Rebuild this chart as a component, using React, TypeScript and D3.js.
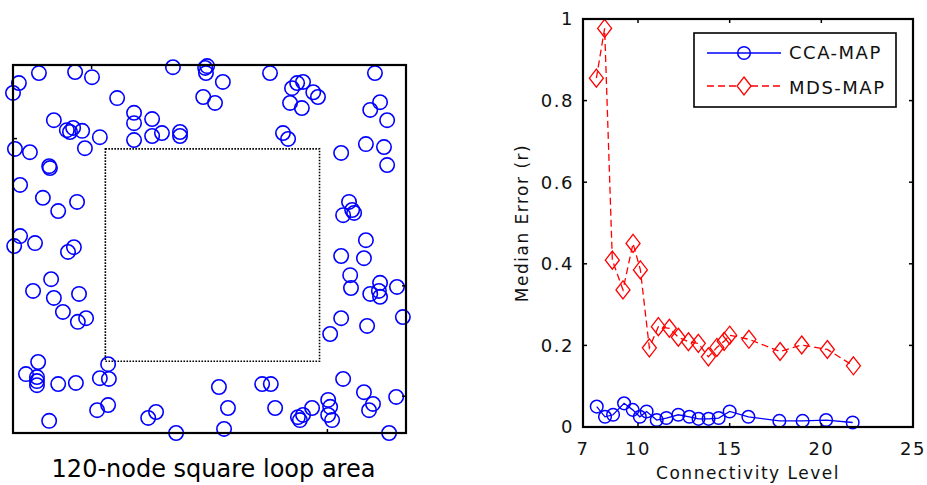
import React from 'react';
import * as d3 from 'd3';

// left panel: 120 node positions on a 10 x 10 field
const nodeX = [
  0.66, 1.58, 2.01, 4.07, 4.89, 4.91, 0.15, 0.0, 2.65, 4.84, 5.14, 1.04, 1.37, 1.53, 1.76, 1.45, 2.21, 1.83,
  3.08, 3.08, 3.54, 3.08, 3.54, 3.79, 4.25, 4.25, 0.05, 0.43, 0.92, 0.94, 0.18, 0.76, 1.15, 1.63, 0.18, 0.56,
  0.03, 1.55, 1.40, 5.34, 6.54, 7.23, 7.38, 7.10, 7.64, 7.76, 7.05, 7.35, 9.21, 9.34, 9.09, 9.52, 6.87, 7.00,
  8.35, 8.98, 9.44, 9.52, 8.55, 8.63, 8.40, 8.68, 8.98, 0.97, 0.51, 1.04, 1.27, 1.68, 1.65, 1.86, 0.64, 0.33,
  0.61, 0.61, 1.15, 1.60, 2.42, 2.21, 2.44, 2.14, 2.42, 0.92, 3.44, 3.64, 4.15, 8.35, 8.93, 8.58, 8.60, 9.34,
  9.77, 9.09, 9.34, 9.31, 9.92, 8.35, 9.01, 8.07, 5.24, 6.34, 6.56, 5.47, 6.67, 5.37, 7.25, 7.38, 7.61, 7.30,
  8.02, 8.07, 8.12, 8.02, 8.40, 8.93, 9.16, 9.06, 9.75, 9.57, 4.94, 0.61,
];
const nodeY = [
  9.78, 9.81, 9.67, 9.94, 9.92, 9.78, 9.51, 9.24, 9.10, 9.13, 8.97, 8.50, 8.23, 8.29, 8.21, 8.18, 8.04, 7.74,
  8.70, 8.42, 8.53, 7.96, 8.07, 8.15, 8.07, 8.18, 7.72, 7.63, 7.25, 7.20, 6.74, 6.39, 6.03, 6.28, 5.35, 5.16,
  5.08, 5.05, 4.92, 9.54, 9.78, 9.51, 9.54, 9.37, 9.26, 9.13, 8.97, 8.83, 9.78, 8.99, 8.78, 8.50, 8.15, 7.99,
  7.61, 7.85, 7.77, 7.28, 6.28, 6.06, 5.92, 5.98, 5.24, 4.18, 3.86, 3.67, 3.29, 3.78, 3.02, 3.12, 1.93, 1.60,
  1.52, 1.30, 1.33, 1.36, 1.87, 1.49, 1.47, 0.62, 0.76, 0.33, 0.41, 0.57, 0.00, 4.81, 4.75, 4.29, 3.94, 4.08,
  3.97, 3.78, 3.70, 3.86, 3.15, 3.12, 2.91, 2.69, 1.25, 1.33, 1.33, 0.68, 0.68, 0.11, 0.43, 0.49, 0.68, 0.35,
  0.90, 0.71, 0.35, 0.49, 1.47, 1.11, 0.79, 0.62, 0.98, 0.00, 9.97, 1.41,
];
const holeX = [2.35, 7.8];
const holeY = [1.95, 7.72];
const fieldTopTicks = [2];
const fieldBottomTicks = [8];
const fieldLeftTicks = [8];
const fieldRightTicks = [1, 4];
const caption = '120-node square loop area';

// right panel: median error vs connectivity
const ccaX = [7.75, 8.2, 8.64, 9.24, 9.71, 10.1, 10.47, 11.02, 11.55, 12.2, 12.8, 13.3, 13.85, 14.4, 15.0, 16.02, 17.71, 18.98, 20.26, 21.71];
const ccaY = [0.05, 0.025, 0.03, 0.058, 0.042, 0.025, 0.038, 0.017, 0.022, 0.03, 0.025, 0.02, 0.02, 0.022, 0.038, 0.025, 0.015, 0.015, 0.017, 0.011];
const mdsX = [7.73, 8.18, 8.6, 9.18, 9.73, 10.13, 10.62, 11.11, 11.71, 12.2, 12.75, 13.29, 13.84, 14.3, 14.7, 15.0, 16.05, 17.75, 18.93, 20.33, 21.75];
const mdsY = [0.855, 0.977, 0.409, 0.336, 0.45, 0.385, 0.194, 0.246, 0.242, 0.22, 0.209, 0.205, 0.172, 0.195, 0.21, 0.225, 0.215, 0.185, 0.201, 0.19, 0.15];
const xTicks = [7, 10, 15, 20, 25];
const yTicks = [0, 0.2, 0.4, 0.6, 0.8, 1];
const yTickLabels = ['0', '0.2', '0.4', '0.6', '0.8', '1'];
const seriesNames = ['CCA-MAP', 'MDS-MAP'];

const FONT = 'DejaVu Sans, Verdana, sans-serif';

const diamond = (cx: number, cy: number, w = 7, h = 9) =>
  `M${cx},${cy - h}L${cx + w},${cy}L${cx},${cy + h}L${cx - w},${cy}Z`;

function Field() {
  const sx = d3.scaleLinear().domain([0, 10]).range([13, 406]);
  const sy = d3.scaleLinear().domain([0, 10]).range([433, 65]);
  const [x0, x1] = sx.range();
  const [y0, y1] = sy.range();
  return (
    <g>
      <rect x={sx(holeX[0])} y={sy(holeY[1])} width={sx(holeX[1]) - sx(holeX[0])} height={sy(holeY[0]) - sy(holeY[1])}
        fill="none" stroke="#000" strokeWidth={1.6} strokeDasharray="1.6,1.4" />
      {nodeX.map((v, i) => (
        <circle key={i} cx={sx(v)} cy={sy(nodeY[i])} r={7.2} fill="none" stroke="#0000ff" strokeWidth={1.6} />
      ))}
      <rect x={x0} y={y1} width={x1 - x0} height={y0 - y1} fill="none" stroke="#000" strokeWidth={2.2} />
      {fieldTopTicks.map(t => <line key={'t' + t} x1={sx(t)} x2={sx(t)} y1={y1} y2={y1 + 4} stroke="#000" strokeWidth={1.5} />)}
      {fieldBottomTicks.map(t => <line key={'b' + t} x1={sx(t)} x2={sx(t)} y1={y0} y2={y0 - 4} stroke="#000" strokeWidth={1.5} />)}
      {fieldLeftTicks.map(t => <line key={'l' + t} x1={x0} x2={x0 + 4} y1={sy(t)} y2={sy(t)} stroke="#000" strokeWidth={1.5} />)}
      {fieldRightTicks.map(t => <line key={'r' + t} x1={x1} x2={x1 - 4} y1={sy(t)} y2={sy(t)} stroke="#000" strokeWidth={1.5} />)}
      <text x={(x0 + x1) / 2 + 4} y={477} textAnchor="middle" fontFamily={FONT} fontSize={24} fill="#000">{caption}</text>
    </g>
  );
}

function ErrorChart() {
  const ex = d3.scaleLinear().domain([7, 25]).range([583, 913]);
  const ey = d3.scaleLinear().domain([0, 1]).range([427, 19]);
  const [l, r] = ex.range();
  const [b, t] = ey.range();
  const line = d3.line<[number, number]>().x(d => ex(d[0])).y(d => ey(d[1]));
  const cca = ccaX.map((v, i) => [v, ccaY[i]] as [number, number]);
  const mds = mdsX.map((v, i) => [v, mdsY[i]] as [number, number]);
  const tickFont = { fontFamily: FONT, fontSize: 18, letterSpacing: 1.5, fill: '#111' };
  return (
    <g>
      <path d={line(mds) || ''} fill="none" stroke="#ff0000" strokeWidth={1.3} strokeDasharray="7,4" />
      {mds.map((d, i) => (
        <path key={i} d={diamond(ex(d[0]), ey(d[1]))} fill="none" stroke="#ff0000" strokeWidth={1.3} />
      ))}
      <path d={line(cca) || ''} fill="none" stroke="#0000ff" strokeWidth={1.3} />
      {cca.map((d, i) => (
        <circle key={i} cx={ex(d[0])} cy={ey(d[1])} r={6.3} fill="none" stroke="#0000ff" strokeWidth={1.5} />
      ))}
      <rect x={l} y={t} width={r - l} height={b - t} fill="none" stroke="#000" strokeWidth={2.2} />
      {xTicks.map(v => (
        <g key={'x' + v}>
          <line x1={ex(v)} x2={ex(v)} y1={b} y2={b - 4} stroke="#000" strokeWidth={1.5} />
          <line x1={ex(v)} x2={ex(v)} y1={t} y2={t + 4} stroke="#000" strokeWidth={1.5} />
          <text x={ex(v)} y={b + 28} textAnchor="middle" {...tickFont}>{v}</text>
        </g>
      ))}
      {yTicks.map((v, i) => (
        <g key={'y' + v}>
          <line x1={l} x2={l + 4} y1={ey(v)} y2={ey(v)} stroke="#000" strokeWidth={1.5} />
          <line x1={r} x2={r - 4} y1={ey(v)} y2={ey(v)} stroke="#000" strokeWidth={1.5} />
          <text x={l - 9} y={ey(v)} dy="0.36em" textAnchor="end" {...tickFont}>{yTickLabels[i]}</text>
        </g>
      ))}
      <text x={(l + r) / 2} y={479} textAnchor="middle" {...tickFont} fontSize={17}>Connectivity Level</text>
      <text transform={`translate(528,${(t + b) / 2}) rotate(-90)`} textAnchor="middle" {...tickFont} fontSize={17}>Median Error (r)</text>
      <g>
        <rect x={694} y={33} width={202} height={74} fill="#fff" stroke="#000" strokeWidth={1.6} />
        <line x1={707} x2={781} y1={53} y2={53} stroke="#0000ff" strokeWidth={1.3} />
        <circle cx={744} cy={53} r={6.3} fill="none" stroke="#0000ff" strokeWidth={1.5} />
        <text x={789} y={53} dy="0.36em" {...tickFont}>{seriesNames[0]}</text>
        <line x1={707} x2={781} y1={86} y2={86} stroke="#ff0000" strokeWidth={1.3} strokeDasharray="7,4" />
        <path d={diamond(744, 86)} fill="#fff" stroke="#ff0000" strokeWidth={1.3} />
        <text x={789} y={88} dy="0.36em" {...tickFont}>{seriesNames[1]}</text>
      </g>
    </g>
  );
}

export default function App() {
  return (
    <svg width={927} height={485} style={{ position: 'absolute', left: 0, top: 0, background: '#fff' }}>
      <Field />
      <ErrorChart />
    </svg>
  );
}
